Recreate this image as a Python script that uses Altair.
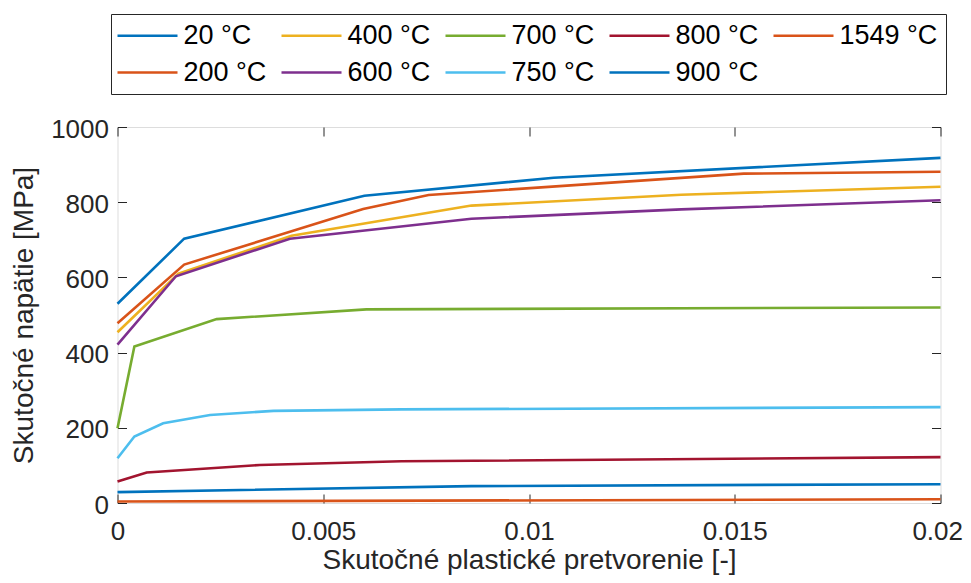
import altair as alt
import pandas as pd

# ---- data ----
series_names = ["20 °C", "200 °C", "400 °C", "600 °C", "700 °C", "750 °C", "800 °C", "900 °C", "1549 °C"]

x_20 = [0, 0.00162, 0.0060, 0.0106, 0.02]
y_20 = [530, 703, 817, 865, 918]
x_200 = [0, 0.00162, 0.00597, 0.00756, 0.01522, 0.02]
y_200 = [478, 634, 782, 819, 876, 881]
x_400 = [0, 0.00148, 0.00423, 0.0086, 0.0137, 0.02]
y_400 = [454, 610, 711, 791, 820, 841]
x_600 = [0, 0.00142, 0.00419, 0.0086, 0.0137, 0.02]
y_600 = [421, 603, 703, 756, 781, 805]
x_700 = [0, 0.00041, 0.00241, 0.00605, 0.02]
y_700 = [199, 416, 489, 515, 520]
x_750 = [0, 0.00041, 0.00111, 0.00225, 0.00379, 0.0069, 0.02]
y_750 = [119, 177, 212, 234, 245, 249, 255]
x_800 = [0, 0.00071, 0.00346, 0.0069, 0.02]
y_800 = [57, 81, 101, 111, 122]
x_900 = [0, 0.0086, 0.02]
y_900 = [29, 45, 50]
x_1549 = [0, 0.02]
y_1549 = [4, 10]

xs_all = [x_20, x_200, x_400, x_600, x_700, x_750, x_800, x_900, x_1549]
ys_all = [y_20, y_200, y_400, y_600, y_700, y_750, y_800, y_900, y_1549]

x_ticks = [0, 0.005, 0.01, 0.015, 0.02]
y_ticks = [0, 200, 400, 600, 800, 1000]

series_colors = ["#0072BD", "#D95319", "#EDB120", "#7E2F8E", "#77AC30",
                 "#4DBEEE", "#A2142F", "#0072BD", "#D95319"]

rows = []
for k, (name, xs, ys) in enumerate(zip(series_names, xs_all, ys_all)):
    for i, (xv, yv) in enumerate(zip(xs, ys)):
        rows.append({"temp": name, "strain": xv, "stress": yv, "idx": i, "k": k})
df = pd.DataFrame(rows)

W, H = 823, 376
FONT = "Liberation Sans"
AX = "#262626"

xscale = alt.Scale(domain=[0, 0.02], nice=False, zero=False)
yscale = alt.Scale(domain=[0, 1000], nice=False)

base = alt.Chart(df)

lines = base.mark_line(strokeWidth=2.6).encode(
    x=alt.X("strain:Q", scale=xscale,
            axis=alt.Axis(orient="bottom", values=x_ticks[:-1], format="~g",
                          title="Skutočné plastické pretvorenie [-]",
                          ticks=False, tickSize=0, domain=False, grid=False,
                          labelFlush=False,
                          labelFontSize=26, labelFont=FONT, labelColor=AX,
                          labelPadding=15, titleFontSize=28, titleFont=FONT,
                          titleColor=AX, titleFontWeight="normal",
                          titleBaseline="alphabetic", titleY=65)),
    y=alt.Y("stress:Q", scale=yscale,
            axis=alt.Axis(orient="left", values=y_ticks, format="d",
                          title="Skutočné napätie [MPa]",
                          ticks=False, tickSize=0, domain=False, grid=False,
                          labelFlush=False, labelOffset=2,
                          labelFontSize=26, labelFont=FONT, labelColor=AX,
                          labelPadding=9, titleFontSize=28, titleFont=FONT,
                          titleColor=AX, titleFontWeight="normal", titlePadding=12)),
    color=alt.Color("temp:N",
                    scale=alt.Scale(domain=series_names, range=series_colors),
                    legend=alt.Legend(orient="none", legendX=-6.5, legendY=-113,
                                      columns=5, title=None,
                                      symbolType="M-2,0H6", symbolSize=225,
                                      symbolStrokeWidth=2.5,
                                      labelFontSize=27, labelFont=FONT, labelColor="black",
                                      labelOffset=37.5, columnPadding=9, rowPadding=9,
                                      padding=8, strokeColor=AX, fillColor="white")),
    order=alt.Order("idx:Q"),
)

# last x tick label, kept inside the page
last_label = base.mark_line(opacity=0).encode(
    x=alt.X("strain:Q", scale=xscale,
            axis=alt.Axis(orient="bottom", values=x_ticks[-1:], format="~g", title="",
                          ticks=False, tickSize=0, domain=False, grid=False,
                          labelFlush=True, labelFlushOffset=22,
                          labelFontSize=26, labelFont=FONT, labelColor=AX,
                          labelPadding=15)),
    y=alt.Y("stress:Q", scale=yscale, axis=None),
    detail="temp:N",
)

tick_a = base.mark_line(opacity=0).encode(
    x=alt.X("strain:Q", scale=xscale,
            axis=alt.Axis(orient="top", offset=-H, values=x_ticks, labels=False, title="",
                          domain=False, grid=False, ticks=True, tickSize=9,
                          tickColor=AX, tickWidth=1)),
    y=alt.Y("stress:Q", scale=yscale,
            axis=alt.Axis(orient="right", offset=-W, values=y_ticks, labels=False, title="",
                          domain=False, grid=False, ticks=True, tickSize=9,
                          tickColor=AX, tickWidth=1)),
    detail="temp:N",
)

tick_b = base.mark_line(opacity=0).encode(
    x=alt.X("strain:Q", scale=xscale,
            axis=alt.Axis(orient="bottom", offset=-H, values=x_ticks, labels=False, title="",
                          domain=False, grid=False, ticks=True, tickSize=9,
                          tickColor=AX, tickWidth=1)),
    y=alt.Y("stress:Q", scale=yscale,
            axis=alt.Axis(orient="left", offset=-W, values=y_ticks, labels=False, title="",
                          domain=False, grid=False, ticks=True, tickSize=9,
                          tickColor=AX, tickWidth=1)),
    detail="temp:N",
)

chart = alt.layer(lines, last_label, tick_a, tick_b).resolve_axis(
    x="independent", y="independent"
).properties(
    width=W, height=H,
    autosize=alt.AutoSizeParams(type="none"),
    padding={"left": 109.5, "top": 119, "right": 22.5, "bottom": 72},
).configure_view(
    stroke=AX, strokeWidth=1
).configure(background="white")

chart.save("out.html", embed_options={"renderer": "svg", "actions": False})
